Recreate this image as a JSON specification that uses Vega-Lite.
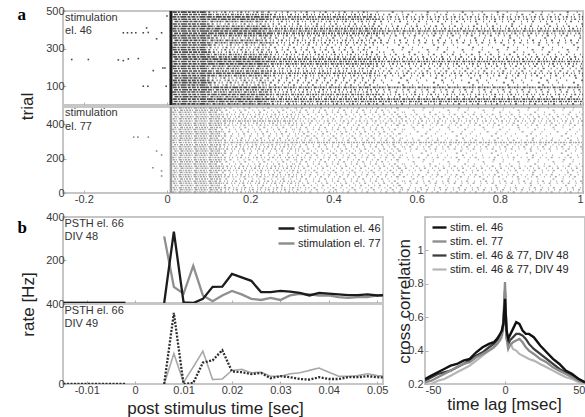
{
"$schema": "https://vega.github.io/schema/vega-lite/v6.json",
"background": "white",
"padding": {"left": 16, "top": 4, "right": 0, "bottom": 0},
"config": {
 "view": {"stroke": "#c6c6c6", "strokeWidth": 2},
 "axis": {"domain": false, "grid": false, "tickSize": -3, "tickColor": "#b0b0b0", "tickWidth": 1, "labelFont": "Liberation Sans", "labelFontSize": 11, "labelColor": "#3a3a3a", "titleFont": "Liberation Sans", "titleFontSize": 17, "titleFontWeight": "normal", "titleColor": "#222"},
 "axisX": {"labelPadding": 3},
 "axisY": {"labelPadding": 2},
 "legend": {"labelFont": "Liberation Sans", "labelFontSize": 11, "labelColor": "#222", "symbolType": "stroke", "padding": 0}
},
"datasets": {
 "ras": [
{"p":"A","r":6,"a":0.013,"b":0.095,"d":5},{"p":"A","r":6,"a":0.095,"b":0.245,"d":4},{"p":"A","r":6,"a":0.245,"b":0.505,"d":3},{"p":"A","r":6,"a":0.505,"b":1,"d":2},
{"p":"A","r":19,"a":0.016,"b":0.105,"d":5},{"p":"A","r":19,"a":0.105,"b":0.235,"d":5},{"p":"A","r":19,"a":0.235,"b":0.495,"d":4},{"p":"A","r":19,"a":0.495,"b":1,"d":4},
{"p":"A","r":31,"a":0.014,"b":0.1,"d":5},{"p":"A","r":31,"a":0.1,"b":0.255,"d":5},{"p":"A","r":31,"a":0.255,"b":0.515,"d":4},{"p":"A","r":31,"a":0.515,"b":1,"d":4},
{"p":"A","r":44,"a":0.018,"b":0.09,"d":5},{"p":"A","r":44,"a":0.09,"b":0.228,"d":4},{"p":"A","r":44,"a":0.228,"b":0.5,"d":3},{"p":"A","r":44,"a":0.5,"b":1,"d":2},
{"p":"A","r":56,"a":0.015,"b":0.11,"d":5},{"p":"A","r":56,"a":0.11,"b":0.248,"d":5},{"p":"A","r":56,"a":0.248,"b":0.51,"d":4},{"p":"A","r":56,"a":0.51,"b":1,"d":3},
{"p":"A","r":69,"a":0.013,"b":0.098,"d":5},{"p":"A","r":69,"a":0.098,"b":0.24,"d":4},{"p":"A","r":69,"a":0.24,"b":0.49,"d":3},{"p":"A","r":69,"a":0.49,"b":1,"d":2},
{"p":"A","r":81,"a":0.017,"b":0.103,"d":5},{"p":"A","r":81,"a":0.103,"b":0.25,"d":4},{"p":"A","r":81,"a":0.25,"b":0.52,"d":3},{"p":"A","r":81,"a":0.52,"b":1,"d":2},
{"p":"A","r":94,"a":0.014,"b":0.092,"d":5},{"p":"A","r":94,"a":0.092,"b":0.23,"d":5},{"p":"A","r":94,"a":0.23,"b":0.48,"d":4},{"p":"A","r":94,"a":0.48,"b":1,"d":4},
{"p":"A","r":106,"a":0.013,"b":0.095,"d":5},{"p":"A","r":106,"a":0.095,"b":0.245,"d":3},{"p":"A","r":106,"a":0.245,"b":0.505,"d":2},{"p":"A","r":106,"a":0.505,"b":1,"d":1},
{"p":"A","r":119,"a":0.016,"b":0.105,"d":5},{"p":"A","r":119,"a":0.105,"b":0.235,"d":3},{"p":"A","r":119,"a":0.235,"b":0.495,"d":2},{"p":"A","r":119,"a":0.495,"b":1,"d":1},
{"p":"A","r":131,"a":0.014,"b":0.1,"d":5},{"p":"A","r":131,"a":0.1,"b":0.255,"d":3},{"p":"A","r":131,"a":0.255,"b":0.515,"d":2},{"p":"A","r":131,"a":0.515,"b":1,"d":1},
{"p":"A","r":144,"a":0.018,"b":0.09,"d":5},{"p":"A","r":144,"a":0.09,"b":0.228,"d":3},{"p":"A","r":144,"a":0.228,"b":0.5,"d":2},{"p":"A","r":144,"a":0.5,"b":1,"d":1},
{"p":"A","r":156,"a":0.015,"b":0.11,"d":5},{"p":"A","r":156,"a":0.11,"b":0.248,"d":4},{"p":"A","r":156,"a":0.248,"b":0.51,"d":3},{"p":"A","r":156,"a":0.51,"b":1,"d":2},
{"p":"A","r":169,"a":0.013,"b":0.098,"d":5},{"p":"A","r":169,"a":0.098,"b":0.24,"d":5},{"p":"A","r":169,"a":0.24,"b":0.49,"d":4},{"p":"A","r":169,"a":0.49,"b":1,"d":3},
{"p":"A","r":181,"a":0.017,"b":0.103,"d":5},{"p":"A","r":181,"a":0.103,"b":0.25,"d":4},{"p":"A","r":181,"a":0.25,"b":0.52,"d":3},{"p":"A","r":181,"a":0.52,"b":1,"d":2},
{"p":"A","r":194,"a":0.014,"b":0.092,"d":5},{"p":"A","r":194,"a":0.092,"b":0.23,"d":4},{"p":"A","r":194,"a":0.23,"b":0.48,"d":3},{"p":"A","r":194,"a":0.48,"b":1,"d":2},
{"p":"A","r":206,"a":0.013,"b":0.095,"d":5},{"p":"A","r":206,"a":0.095,"b":0.245,"d":4},{"p":"A","r":206,"a":0.245,"b":0.505,"d":3},{"p":"A","r":206,"a":0.505,"b":1,"d":2},
{"p":"A","r":219,"a":0.016,"b":0.105,"d":5},{"p":"A","r":219,"a":0.105,"b":0.235,"d":5},{"p":"A","r":219,"a":0.235,"b":0.495,"d":4},{"p":"A","r":219,"a":0.495,"b":1,"d":3},
{"p":"A","r":231,"a":0.014,"b":0.1,"d":5},{"p":"A","r":231,"a":0.1,"b":0.255,"d":5},{"p":"A","r":231,"a":0.255,"b":0.515,"d":4},{"p":"A","r":231,"a":0.515,"b":1,"d":4},
{"p":"A","r":244,"a":0.018,"b":0.09,"d":5},{"p":"A","r":244,"a":0.09,"b":0.228,"d":5},{"p":"A","r":244,"a":0.228,"b":0.5,"d":4},{"p":"A","r":244,"a":0.5,"b":1,"d":3},
{"p":"A","r":256,"a":0.015,"b":0.11,"d":5},{"p":"A","r":256,"a":0.11,"b":0.248,"d":4},{"p":"A","r":256,"a":0.248,"b":0.51,"d":3},{"p":"A","r":256,"a":0.51,"b":1,"d":2},
{"p":"A","r":269,"a":0.013,"b":0.098,"d":5},{"p":"A","r":269,"a":0.098,"b":0.24,"d":4},{"p":"A","r":269,"a":0.24,"b":0.49,"d":3},{"p":"A","r":269,"a":0.49,"b":1,"d":2},
{"p":"A","r":281,"a":0.017,"b":0.103,"d":5},{"p":"A","r":281,"a":0.103,"b":0.25,"d":3},{"p":"A","r":281,"a":0.25,"b":0.52,"d":2},{"p":"A","r":281,"a":0.52,"b":1,"d":1},
{"p":"A","r":294,"a":0.014,"b":0.092,"d":5},{"p":"A","r":294,"a":0.092,"b":0.23,"d":3},{"p":"A","r":294,"a":0.23,"b":0.48,"d":2},{"p":"A","r":294,"a":0.48,"b":1,"d":1},
{"p":"A","r":306,"a":0.013,"b":0.095,"d":5},{"p":"A","r":306,"a":0.095,"b":0.245,"d":3},{"p":"A","r":306,"a":0.245,"b":0.505,"d":2},{"p":"A","r":306,"a":0.505,"b":1,"d":1},
{"p":"A","r":319,"a":0.016,"b":0.105,"d":5},{"p":"A","r":319,"a":0.105,"b":0.235,"d":3},{"p":"A","r":319,"a":0.235,"b":0.495,"d":2},{"p":"A","r":319,"a":0.495,"b":1,"d":1},
{"p":"A","r":331,"a":0.014,"b":0.1,"d":5},{"p":"A","r":331,"a":0.1,"b":0.255,"d":4},{"p":"A","r":331,"a":0.255,"b":0.515,"d":3},{"p":"A","r":331,"a":0.515,"b":1,"d":2},
{"p":"A","r":344,"a":0.018,"b":0.09,"d":5},{"p":"A","r":344,"a":0.09,"b":0.228,"d":4},{"p":"A","r":344,"a":0.228,"b":0.5,"d":3},{"p":"A","r":344,"a":0.5,"b":1,"d":2},
{"p":"A","r":356,"a":0.015,"b":0.11,"d":5},{"p":"A","r":356,"a":0.11,"b":0.248,"d":3},{"p":"A","r":356,"a":0.248,"b":0.51,"d":2},{"p":"A","r":356,"a":0.51,"b":1,"d":1},
{"p":"A","r":369,"a":0.013,"b":0.098,"d":5},{"p":"A","r":369,"a":0.098,"b":0.24,"d":4},{"p":"A","r":369,"a":0.24,"b":0.49,"d":3},{"p":"A","r":369,"a":0.49,"b":1,"d":2},
{"p":"A","r":381,"a":0.017,"b":0.103,"d":5},{"p":"A","r":381,"a":0.103,"b":0.25,"d":5},{"p":"A","r":381,"a":0.25,"b":0.52,"d":4},{"p":"A","r":381,"a":0.52,"b":1,"d":3},
{"p":"A","r":394,"a":0.014,"b":0.092,"d":5},{"p":"A","r":394,"a":0.092,"b":0.23,"d":5},{"p":"A","r":394,"a":0.23,"b":0.48,"d":4},{"p":"A","r":394,"a":0.48,"b":1,"d":4},
{"p":"A","r":406,"a":0.013,"b":0.095,"d":5},{"p":"A","r":406,"a":0.095,"b":0.245,"d":5},{"p":"A","r":406,"a":0.245,"b":0.505,"d":4},{"p":"A","r":406,"a":0.505,"b":1,"d":3},
{"p":"A","r":419,"a":0.016,"b":0.105,"d":5},{"p":"A","r":419,"a":0.105,"b":0.235,"d":4},{"p":"A","r":419,"a":0.235,"b":0.495,"d":3},{"p":"A","r":419,"a":0.495,"b":1,"d":2},
{"p":"A","r":431,"a":0.014,"b":0.1,"d":5},{"p":"A","r":431,"a":0.1,"b":0.255,"d":3},{"p":"A","r":431,"a":0.255,"b":0.515,"d":2},{"p":"A","r":431,"a":0.515,"b":1,"d":1},
{"p":"A","r":444,"a":0.018,"b":0.09,"d":5},{"p":"A","r":444,"a":0.09,"b":0.228,"d":4},{"p":"A","r":444,"a":0.228,"b":0.5,"d":3},{"p":"A","r":444,"a":0.5,"b":1,"d":2},
{"p":"A","r":456,"a":0.015,"b":0.11,"d":5},{"p":"A","r":456,"a":0.11,"b":0.248,"d":5},{"p":"A","r":456,"a":0.248,"b":0.51,"d":4},{"p":"A","r":456,"a":0.51,"b":1,"d":3},
{"p":"A","r":469,"a":0.013,"b":0.098,"d":5},{"p":"A","r":469,"a":0.098,"b":0.24,"d":5},{"p":"A","r":469,"a":0.24,"b":0.49,"d":4},{"p":"A","r":469,"a":0.49,"b":1,"d":3},
{"p":"A","r":481,"a":0.017,"b":0.103,"d":5},{"p":"A","r":481,"a":0.103,"b":0.25,"d":4},{"p":"A","r":481,"a":0.25,"b":0.52,"d":3},{"p":"A","r":481,"a":0.52,"b":1,"d":2},
{"p":"A","r":494,"a":0.014,"b":0.092,"d":5},{"p":"A","r":494,"a":0.092,"b":0.23,"d":3},{"p":"A","r":494,"a":0.23,"b":0.48,"d":2},{"p":"A","r":494,"a":0.48,"b":1,"d":1},
{"p":"B","r":6,"a":0.013,"b":0.13,"d":4},{"p":"B","r":6,"a":0.13,"b":0.33,"d":3},{"p":"B","r":6,"a":0.33,"b":0.545,"d":2},{"p":"B","r":6,"a":0.545,"b":1,"d":2},
{"p":"B","r":19,"a":0.016,"b":0.12,"d":4},{"p":"B","r":19,"a":0.12,"b":0.3,"d":3},{"p":"B","r":19,"a":0.3,"b":0.565,"d":2},{"p":"B","r":19,"a":0.565,"b":1,"d":2},
{"p":"B","r":31,"a":0.014,"b":0.14,"d":4},{"p":"B","r":31,"a":0.14,"b":0.34,"d":3},{"p":"B","r":31,"a":0.34,"b":0.55,"d":2},{"p":"B","r":31,"a":0.55,"b":1,"d":2},
{"p":"B","r":44,"a":0.018,"b":0.125,"d":4},{"p":"B","r":44,"a":0.125,"b":0.315,"d":2},{"p":"B","r":44,"a":0.315,"b":0.56,"d":2},{"p":"B","r":44,"a":0.56,"b":1,"d":1},
{"p":"B","r":56,"a":0.015,"b":0.135,"d":4},{"p":"B","r":56,"a":0.135,"b":0.325,"d":3},{"p":"B","r":56,"a":0.325,"b":0.54,"d":2},{"p":"B","r":56,"a":0.54,"b":1,"d":2},
{"p":"B","r":69,"a":0.013,"b":0.118,"d":4},{"p":"B","r":69,"a":0.118,"b":0.305,"d":3},{"p":"B","r":69,"a":0.305,"b":0.57,"d":2},{"p":"B","r":69,"a":0.57,"b":1,"d":2},
{"p":"B","r":81,"a":0.017,"b":0.128,"d":4},{"p":"B","r":81,"a":0.128,"b":0.32,"d":2},{"p":"B","r":81,"a":0.32,"b":0.53,"d":2},{"p":"B","r":81,"a":0.53,"b":1,"d":1},
{"p":"B","r":94,"a":0.014,"b":0.138,"d":4},{"p":"B","r":94,"a":0.138,"b":0.31,"d":3},{"p":"B","r":94,"a":0.31,"b":0.555,"d":2},{"p":"B","r":94,"a":0.555,"b":1,"d":2},
{"p":"B","r":106,"a":0.013,"b":0.13,"d":4},{"p":"B","r":106,"a":0.13,"b":0.33,"d":3},{"p":"B","r":106,"a":0.33,"b":0.545,"d":2},{"p":"B","r":106,"a":0.545,"b":1,"d":2},
{"p":"B","r":119,"a":0.016,"b":0.12,"d":4},{"p":"B","r":119,"a":0.12,"b":0.3,"d":2},{"p":"B","r":119,"a":0.3,"b":0.565,"d":2},{"p":"B","r":119,"a":0.565,"b":1,"d":1},
{"p":"B","r":131,"a":0.014,"b":0.14,"d":4},{"p":"B","r":131,"a":0.14,"b":0.34,"d":3},{"p":"B","r":131,"a":0.34,"b":0.55,"d":2},{"p":"B","r":131,"a":0.55,"b":1,"d":2},
{"p":"B","r":144,"a":0.018,"b":0.125,"d":4},{"p":"B","r":144,"a":0.125,"b":0.315,"d":3},{"p":"B","r":144,"a":0.315,"b":0.56,"d":2},{"p":"B","r":144,"a":0.56,"b":1,"d":2},
{"p":"B","r":156,"a":0.015,"b":0.135,"d":4},{"p":"B","r":156,"a":0.135,"b":0.325,"d":3},{"p":"B","r":156,"a":0.325,"b":0.54,"d":2},{"p":"B","r":156,"a":0.54,"b":1,"d":2},
{"p":"B","r":169,"a":0.013,"b":0.118,"d":4},{"p":"B","r":169,"a":0.118,"b":0.305,"d":2},{"p":"B","r":169,"a":0.305,"b":0.57,"d":2},{"p":"B","r":169,"a":0.57,"b":1,"d":1},
{"p":"B","r":181,"a":0.017,"b":0.128,"d":4},{"p":"B","r":181,"a":0.128,"b":0.32,"d":2},{"p":"B","r":181,"a":0.32,"b":0.53,"d":2},{"p":"B","r":181,"a":0.53,"b":1,"d":1},
{"p":"B","r":194,"a":0.014,"b":0.138,"d":4},{"p":"B","r":194,"a":0.138,"b":0.31,"d":2},{"p":"B","r":194,"a":0.31,"b":0.555,"d":2},{"p":"B","r":194,"a":0.555,"b":1,"d":1},
{"p":"B","r":206,"a":0.013,"b":0.13,"d":4},{"p":"B","r":206,"a":0.13,"b":0.33,"d":3},{"p":"B","r":206,"a":0.33,"b":0.545,"d":2},{"p":"B","r":206,"a":0.545,"b":1,"d":2},
{"p":"B","r":219,"a":0.016,"b":0.12,"d":4},{"p":"B","r":219,"a":0.12,"b":0.3,"d":2},{"p":"B","r":219,"a":0.3,"b":0.565,"d":2},{"p":"B","r":219,"a":0.565,"b":1,"d":1},
{"p":"B","r":231,"a":0.014,"b":0.14,"d":4},{"p":"B","r":231,"a":0.14,"b":0.34,"d":2},{"p":"B","r":231,"a":0.34,"b":0.55,"d":2},{"p":"B","r":231,"a":0.55,"b":1,"d":1},
{"p":"B","r":244,"a":0.018,"b":0.125,"d":4},{"p":"B","r":244,"a":0.125,"b":0.315,"d":2},{"p":"B","r":244,"a":0.315,"b":0.56,"d":2},{"p":"B","r":244,"a":0.56,"b":1,"d":1},
{"p":"B","r":256,"a":0.015,"b":0.135,"d":4},{"p":"B","r":256,"a":0.135,"b":0.325,"d":3},{"p":"B","r":256,"a":0.325,"b":0.54,"d":2},{"p":"B","r":256,"a":0.54,"b":1,"d":2},
{"p":"B","r":269,"a":0.013,"b":0.118,"d":4},{"p":"B","r":269,"a":0.118,"b":0.305,"d":3},{"p":"B","r":269,"a":0.305,"b":0.57,"d":2},{"p":"B","r":269,"a":0.57,"b":1,"d":2},
{"p":"B","r":281,"a":0.017,"b":0.128,"d":4},{"p":"B","r":281,"a":0.128,"b":0.32,"d":3},{"p":"B","r":281,"a":0.32,"b":0.53,"d":2},{"p":"B","r":281,"a":0.53,"b":1,"d":2},
{"p":"B","r":294,"a":0.014,"b":0.138,"d":4},{"p":"B","r":294,"a":0.138,"b":0.31,"d":4},{"p":"B","r":294,"a":0.31,"b":0.555,"d":4},{"p":"B","r":294,"a":0.555,"b":1,"d":4},
{"p":"B","r":306,"a":0.013,"b":0.13,"d":4},{"p":"B","r":306,"a":0.13,"b":0.33,"d":3},{"p":"B","r":306,"a":0.33,"b":0.545,"d":2},{"p":"B","r":306,"a":0.545,"b":1,"d":2},
{"p":"B","r":319,"a":0.016,"b":0.12,"d":4},{"p":"B","r":319,"a":0.12,"b":0.3,"d":2},{"p":"B","r":319,"a":0.3,"b":0.565,"d":2},{"p":"B","r":319,"a":0.565,"b":1,"d":1},
{"p":"B","r":331,"a":0.014,"b":0.14,"d":4},{"p":"B","r":331,"a":0.14,"b":0.34,"d":2},{"p":"B","r":331,"a":0.34,"b":0.55,"d":2},{"p":"B","r":331,"a":0.55,"b":1,"d":1},
{"p":"B","r":344,"a":0.018,"b":0.125,"d":4},{"p":"B","r":344,"a":0.125,"b":0.315,"d":2},{"p":"B","r":344,"a":0.315,"b":0.56,"d":2},{"p":"B","r":344,"a":0.56,"b":1,"d":1},
{"p":"B","r":356,"a":0.015,"b":0.135,"d":4},{"p":"B","r":356,"a":0.135,"b":0.325,"d":2},{"p":"B","r":356,"a":0.325,"b":0.54,"d":2},{"p":"B","r":356,"a":0.54,"b":1,"d":1},
{"p":"B","r":369,"a":0.013,"b":0.118,"d":4},{"p":"B","r":369,"a":0.118,"b":0.305,"d":2},{"p":"B","r":369,"a":0.305,"b":0.57,"d":2},{"p":"B","r":369,"a":0.57,"b":1,"d":1},
{"p":"B","r":381,"a":0.017,"b":0.128,"d":4},{"p":"B","r":381,"a":0.128,"b":0.32,"d":2},{"p":"B","r":381,"a":0.32,"b":0.53,"d":2},{"p":"B","r":381,"a":0.53,"b":1,"d":1},
{"p":"B","r":394,"a":0.014,"b":0.138,"d":4},{"p":"B","r":394,"a":0.138,"b":0.31,"d":3},{"p":"B","r":394,"a":0.31,"b":0.555,"d":2},{"p":"B","r":394,"a":0.555,"b":1,"d":2},
{"p":"B","r":406,"a":0.013,"b":0.13,"d":4},{"p":"B","r":406,"a":0.13,"b":0.33,"d":3},{"p":"B","r":406,"a":0.33,"b":0.545,"d":2},{"p":"B","r":406,"a":0.545,"b":1,"d":2},
{"p":"B","r":419,"a":0.016,"b":0.12,"d":4},{"p":"B","r":419,"a":0.12,"b":0.3,"d":4},{"p":"B","r":419,"a":0.3,"b":0.565,"d":3},{"p":"B","r":419,"a":0.565,"b":1,"d":3},
{"p":"B","r":431,"a":0.014,"b":0.14,"d":4},{"p":"B","r":431,"a":0.14,"b":0.34,"d":3},{"p":"B","r":431,"a":0.34,"b":0.55,"d":2},{"p":"B","r":431,"a":0.55,"b":1,"d":2},
{"p":"B","r":444,"a":0.018,"b":0.125,"d":4},{"p":"B","r":444,"a":0.125,"b":0.315,"d":3},{"p":"B","r":444,"a":0.315,"b":0.56,"d":2},{"p":"B","r":444,"a":0.56,"b":1,"d":2},
{"p":"B","r":456,"a":0.015,"b":0.135,"d":4},{"p":"B","r":456,"a":0.135,"b":0.325,"d":3},{"p":"B","r":456,"a":0.325,"b":0.54,"d":2},{"p":"B","r":456,"a":0.54,"b":1,"d":2},
{"p":"B","r":469,"a":0.013,"b":0.118,"d":4},{"p":"B","r":469,"a":0.118,"b":0.305,"d":2},{"p":"B","r":469,"a":0.305,"b":0.57,"d":2},{"p":"B","r":469,"a":0.57,"b":1,"d":1},
{"p":"B","r":481,"a":0.017,"b":0.128,"d":4},{"p":"B","r":481,"a":0.128,"b":0.32,"d":2},{"p":"B","r":481,"a":0.32,"b":0.53,"d":2},{"p":"B","r":481,"a":0.53,"b":1,"d":1},
{"p":"B","r":494,"a":0.014,"b":0.138,"d":4},{"p":"B","r":494,"a":0.138,"b":0.31,"d":2},{"p":"B","r":494,"a":0.31,"b":0.555,"d":2},{"p":"B","r":494,"a":0.555,"b":1,"d":1}
 ],
 "pre": [
{"p":"A","t":-0.229,"r":242},{"p":"A","t":-0.189,"r":242},{"p":"A","t":-0.117,"r":240},{"p":"A","t":-0.105,"r":236},{"p":"A","t":-0.093,"r":245},{"p":"A","t":-0.069,"r":247},
{"p":"A","t":-0.105,"r":384},{"p":"A","t":-0.095,"r":384},{"p":"A","t":-0.085,"r":384},{"p":"A","t":-0.075,"r":384},{"p":"A","t":-0.057,"r":384},{"p":"A","t":-0.045,"r":386},{"p":"A","t":-0.013,"r":384},
{"p":"A","t":-0.049,"r":410},{"p":"A","t":-0.025,"r":352},{"p":"A","t":-0.033,"r":183},{"p":"A","t":-0.01,"r":197},{"p":"A","t":-0.005,"r":197},
{"p":"A","t":-0.057,"r":100},{"p":"A","t":-0.046,"r":100},{"p":"A","t":-0.002,"r":100},{"p":"A","t":0.0,"r":473},
{"p":"B","t":-0.08,"r":325},{"p":"B","t":-0.07,"r":325},{"p":"B","t":-0.045,"r":325},{"p":"B","t":-0.025,"r":244},{"p":"B","t":-0.013,"r":221},{"p":"B","t":-0.034,"r":147},{"p":"B","t":-0.013,"r":128},{"p":"B","t":-0.013,"r":99}
 ],
 "art": [{"p":"A","t":0.0095},{"p":"B","t":0.0095}],
 "b1": [
{"s":"77","g":"pre","t":-0.0148,"v":0},{"s":"77","g":"pre","t":-0.002,"v":0},
{"s":"77","g":"post","t":0.006,"v":310},{"s":"77","g":"post","t":0.008,"v":75},{"s":"77","g":"post","t":0.010,"v":43},{"s":"77","g":"post","t":0.012,"v":173},{"s":"77","g":"post","t":0.014,"v":35},{"s":"77","g":"post","t":0.016,"v":8},{"s":"77","g":"post","t":0.018,"v":35},{"s":"77","g":"post","t":0.020,"v":56},{"s":"77","g":"post","t":0.022,"v":40},{"s":"77","g":"post","t":0.024,"v":19},{"s":"77","g":"post","t":0.026,"v":14},{"s":"77","g":"post","t":0.028,"v":24},{"s":"77","g":"post","t":0.030,"v":14},{"s":"77","g":"post","t":0.032,"v":35},{"s":"77","g":"post","t":0.034,"v":43},{"s":"77","g":"post","t":0.036,"v":40},{"s":"77","g":"post","t":0.038,"v":35},{"s":"77","g":"post","t":0.040,"v":35},{"s":"77","g":"post","t":0.042,"v":27},{"s":"77","g":"post","t":0.044,"v":24},{"s":"77","g":"post","t":0.046,"v":27},{"s":"77","g":"post","t":0.048,"v":27},{"s":"77","g":"post","t":0.050,"v":35},{"s":"77","g":"post","t":0.052,"v":33},
{"s":"46","g":"pre","t":-0.0148,"v":0},{"s":"46","g":"pre","t":-0.002,"v":0},
{"s":"46","g":"post","t":0.006,"v":0},{"s":"46","g":"post","t":0.008,"v":332},{"s":"46","g":"post","t":0.010,"v":3},{"s":"46","g":"post","t":0.012,"v":0},{"s":"46","g":"post","t":0.014,"v":19},{"s":"46","g":"post","t":0.016,"v":75},{"s":"46","g":"post","t":0.018,"v":76},{"s":"46","g":"post","t":0.020,"v":135},{"s":"46","g":"post","t":0.022,"v":119},{"s":"46","g":"post","t":0.024,"v":103},{"s":"46","g":"post","t":0.026,"v":51},{"s":"46","g":"post","t":0.028,"v":51},{"s":"46","g":"post","t":0.030,"v":56},{"s":"46","g":"post","t":0.032,"v":53},{"s":"46","g":"post","t":0.034,"v":47},{"s":"46","g":"post","t":0.036,"v":35},{"s":"46","g":"post","t":0.038,"v":47},{"s":"46","g":"post","t":0.040,"v":44},{"s":"46","g":"post","t":0.042,"v":40},{"s":"46","g":"post","t":0.044,"v":37},{"s":"46","g":"post","t":0.046,"v":37},{"s":"46","g":"post","t":0.048,"v":40},{"s":"46","g":"post","t":0.050,"v":35},{"s":"46","g":"post","t":0.052,"v":38}
 ],
 "b2": [
{"s":"77","g":"pre","t":-0.0148,"v":0},{"s":"77","g":"pre","t":-0.002,"v":0},
{"s":"77","g":"post","t":0.006,"v":0},{"s":"77","g":"post","t":0.008,"v":152},{"s":"77","g":"post","t":0.010,"v":8},{"s":"77","g":"post","t":0.012,"v":85},{"s":"77","g":"post","t":0.014,"v":164},{"s":"77","g":"post","t":0.016,"v":22},{"s":"77","g":"post","t":0.018,"v":25},{"s":"77","g":"post","t":0.020,"v":68},{"s":"77","g":"post","t":0.022,"v":73},{"s":"77","g":"post","t":0.024,"v":56},{"s":"77","g":"post","t":0.026,"v":59},{"s":"77","g":"post","t":0.028,"v":39},{"s":"77","g":"post","t":0.030,"v":39},{"s":"77","g":"post","t":0.032,"v":51},{"s":"77","g":"post","t":0.034,"v":56},{"s":"77","g":"post","t":0.036,"v":68},{"s":"77","g":"post","t":0.038,"v":80},{"s":"77","g":"post","t":0.040,"v":59},{"s":"77","g":"post","t":0.042,"v":39},{"s":"77","g":"post","t":0.044,"v":39},{"s":"77","g":"post","t":0.046,"v":42},{"s":"77","g":"post","t":0.048,"v":51},{"s":"77","g":"post","t":0.050,"v":42},{"s":"77","g":"post","t":0.052,"v":40},
{"s":"46","g":"pre","t":-0.0148,"v":0},{"s":"46","g":"pre","t":-0.002,"v":0},
{"s":"46","g":"post","t":0.006,"v":0},{"s":"46","g":"post","t":0.008,"v":355},{"s":"46","g":"post","t":0.010,"v":0},{"s":"46","g":"post","t":0.012,"v":5},{"s":"46","g":"post","t":0.014,"v":107},{"s":"46","g":"post","t":0.016,"v":118},{"s":"46","g":"post","t":0.018,"v":169},{"s":"46","g":"post","t":0.020,"v":63},{"s":"46","g":"post","t":0.022,"v":59},{"s":"46","g":"post","t":0.024,"v":50},{"s":"46","g":"post","t":0.026,"v":55},{"s":"46","g":"post","t":0.028,"v":29},{"s":"46","g":"post","t":0.030,"v":39},{"s":"46","g":"post","t":0.032,"v":34},{"s":"46","g":"post","t":0.034,"v":25},{"s":"46","g":"post","t":0.036,"v":22},{"s":"46","g":"post","t":0.038,"v":34},{"s":"46","g":"post","t":0.040,"v":25},{"s":"46","g":"post","t":0.042,"v":25},{"s":"46","g":"post","t":0.044,"v":34},{"s":"46","g":"post","t":0.046,"v":34},{"s":"46","g":"post","t":0.048,"v":39},{"s":"46","g":"post","t":0.050,"v":34},{"s":"46","g":"post","t":0.052,"v":32}
 ],
 "cc": [
{"s":"49","x":-50,"c":0.19},{"s":"49","x":-46,"c":0.2},{"s":"49","x":-42,"c":0.22},{"s":"49","x":-38,"c":0.23},{"s":"49","x":-34,"c":0.25},{"s":"49","x":-30,"c":0.27},{"s":"49","x":-26,"c":0.29},{"s":"49","x":-22,"c":0.31},{"s":"49","x":-18,"c":0.34},{"s":"49","x":-14,"c":0.37},{"s":"49","x":-10,"c":0.4},{"s":"49","x":-7,"c":0.42},{"s":"49","x":-5,"c":0.44},{"s":"49","x":-3,"c":0.46},{"s":"49","x":-2,"c":0.48},{"s":"49","x":-1,"c":0.53},{"s":"49","x":0,"c":0.66},{"s":"49","x":1,"c":0.5},{"s":"49","x":2,"c":0.49},{"s":"49","x":3,"c":0.45},{"s":"49","x":5,"c":0.41},{"s":"49","x":7,"c":0.4},{"s":"49","x":9,"c":0.38},{"s":"49","x":11,"c":0.37},{"s":"49","x":13,"c":0.36},{"s":"49","x":15,"c":0.35},{"s":"49","x":18,"c":0.34},{"s":"49","x":22,"c":0.32},{"s":"49","x":26,"c":0.3},{"s":"49","x":30,"c":0.28},{"s":"49","x":34,"c":0.26},{"s":"49","x":38,"c":0.24},{"s":"49","x":42,"c":0.23},{"s":"49","x":46,"c":0.21},{"s":"49","x":50,"c":0.2},
{"s":"48","x":-50,"c":0.22},{"s":"48","x":-46,"c":0.24},{"s":"48","x":-42,"c":0.26},{"s":"48","x":-38,"c":0.27},{"s":"48","x":-34,"c":0.28},{"s":"48","x":-30,"c":0.3},{"s":"48","x":-26,"c":0.32},{"s":"48","x":-22,"c":0.34},{"s":"48","x":-18,"c":0.37},{"s":"48","x":-14,"c":0.39},{"s":"48","x":-10,"c":0.42},{"s":"48","x":-7,"c":0.44},{"s":"48","x":-5,"c":0.46},{"s":"48","x":-3,"c":0.48},{"s":"48","x":-2,"c":0.5},{"s":"48","x":-1,"c":0.56},{"s":"48","x":0,"c":0.76},{"s":"48","x":1,"c":0.48},{"s":"48","x":2,"c":0.44},{"s":"48","x":3,"c":0.46},{"s":"48","x":5,"c":0.48},{"s":"48","x":7,"c":0.5},{"s":"48","x":9,"c":0.5},{"s":"48","x":11,"c":0.49},{"s":"48","x":13,"c":0.47},{"s":"48","x":15,"c":0.44},{"s":"48","x":18,"c":0.41},{"s":"48","x":22,"c":0.38},{"s":"48","x":26,"c":0.35},{"s":"48","x":30,"c":0.32},{"s":"48","x":34,"c":0.29},{"s":"48","x":38,"c":0.27},{"s":"48","x":42,"c":0.25},{"s":"48","x":46,"c":0.23},{"s":"48","x":50,"c":0.21},
{"s":"77","x":-50,"c":0.21},{"s":"77","x":-46,"c":0.22},{"s":"77","x":-42,"c":0.24},{"s":"77","x":-38,"c":0.26},{"s":"77","x":-34,"c":0.28},{"s":"77","x":-30,"c":0.3},{"s":"77","x":-26,"c":0.32},{"s":"77","x":-22,"c":0.33},{"s":"77","x":-18,"c":0.36},{"s":"77","x":-14,"c":0.38},{"s":"77","x":-10,"c":0.4},{"s":"77","x":-7,"c":0.42},{"s":"77","x":-5,"c":0.44},{"s":"77","x":-3,"c":0.47},{"s":"77","x":-2,"c":0.5},{"s":"77","x":-1,"c":0.58},{"s":"77","x":0,"c":0.81},{"s":"77","x":1,"c":0.47},{"s":"77","x":2,"c":0.41},{"s":"77","x":3,"c":0.43},{"s":"77","x":5,"c":0.45},{"s":"77","x":7,"c":0.46},{"s":"77","x":9,"c":0.47},{"s":"77","x":11,"c":0.45},{"s":"77","x":13,"c":0.42},{"s":"77","x":15,"c":0.4},{"s":"77","x":18,"c":0.38},{"s":"77","x":22,"c":0.35},{"s":"77","x":26,"c":0.33},{"s":"77","x":30,"c":0.3},{"s":"77","x":34,"c":0.28},{"s":"77","x":38,"c":0.26},{"s":"77","x":42,"c":0.24},{"s":"77","x":46,"c":0.22},{"s":"77","x":50,"c":0.21},
{"s":"46","x":-50,"c":0.23},{"s":"46","x":-46,"c":0.25},{"s":"46","x":-42,"c":0.27},{"s":"46","x":-38,"c":0.29},{"s":"46","x":-34,"c":0.31},{"s":"46","x":-30,"c":0.32},{"s":"46","x":-26,"c":0.34},{"s":"46","x":-22,"c":0.35},{"s":"46","x":-18,"c":0.39},{"s":"46","x":-14,"c":0.42},{"s":"46","x":-10,"c":0.44},{"s":"46","x":-7,"c":0.45},{"s":"46","x":-5,"c":0.47},{"s":"46","x":-3,"c":0.5},{"s":"46","x":-2,"c":0.52},{"s":"46","x":-1,"c":0.56},{"s":"46","x":0,"c":0.71},{"s":"46","x":1,"c":0.52},{"s":"46","x":2,"c":0.47},{"s":"46","x":3,"c":0.49},{"s":"46","x":5,"c":0.53},{"s":"46","x":7,"c":0.57},{"s":"46","x":9,"c":0.56},{"s":"46","x":11,"c":0.52},{"s":"46","x":13,"c":0.5},{"s":"46","x":15,"c":0.5},{"s":"46","x":18,"c":0.48},{"s":"46","x":22,"c":0.43},{"s":"46","x":26,"c":0.39},{"s":"46","x":30,"c":0.35},{"s":"46","x":34,"c":0.32},{"s":"46","x":38,"c":0.28},{"s":"46","x":42,"c":0.26},{"s":"46","x":46,"c":0.23},{"s":"46","x":50,"c":0.21}
 ]
},
"vconcat": [
 {
  "vconcat": [
   {
    "width": 520, "height": 94,
    "layer": [
     {"data": {"name": "ras"}, "transform": [{"filter": {"field": "p", "equal": "A"}}],
      "mark": {"type": "rule", "strokeWidth": 1.6, "color": "#111"},
      "encoding": {
       "x": {"field": "a", "type": "quantitative", "scale": {"domain": [-0.25, 1], "nice": false}, "axis": {"values": [-0.2, 0, 0.2, 0.4, 0.6, 0.8, 1], "labels": false, "title": "a", "titleX": -46, "titleY": -86, "titleAlign": "left", "titleBaseline": "alphabetic", "titleFont": "Liberation Serif", "titleFontSize": 17, "titleFontWeight": "bold", "titleColor": "#000"}},
       "x2": {"field": "b"},
       "y": {"field": "r", "type": "quantitative", "scale": {"domain": [0, 500], "nice": false}, "axis": {"values": [100, 200, 300, 400, 500], "title": "trial", "titleX": -31, "titleY": 95, "titleBaseline": "alphabetic"}},
       "opacity": {"field": "d", "type": "ordinal", "scale": {"domain": [1, 2, 3, 4, 5], "range": [0.6, 0.75, 0.85, 0.95, 1]}, "legend": null},
       "strokeDash": {"field": "d", "type": "ordinal", "scale": {"domain": [1, 2, 3, 4, 5], "range": [[1, 9, 1, 14, 2, 8], [1, 4, 2, 6, 1, 5], [1, 2, 2, 3, 1, 2, 1, 4], [2, 1, 1, 2, 3, 1, 1, 1, 2, 1], [4, 1, 2, 1, 6, 1, 3, 1]]}, "legend": null}
      }},
     {"data": {"name": "art"}, "transform": [{"filter": {"field": "p", "equal": "A"}}],
      "mark": {"type": "rule", "strokeWidth": 3, "color": "#1a1a1a"},
      "encoding": {"x": {"field": "t", "type": "quantitative"}}},
     {"data": {"name": "pre"}, "transform": [{"filter": {"field": "p", "equal": "A"}}],
      "mark": {"type": "square", "size": 2.5, "color": "#444", "opacity": 1},
      "encoding": {"x": {"field": "t", "type": "quantitative"}, "y": {"field": "r", "type": "quantitative"}}},
     {"data": {"values": [{"t": -0.245, "r": 449, "txt": "stimulation\nel. 46"}]},
      "mark": {"type": "text", "align": "left", "baseline": "alphabetic", "lineBreak": "\n", "lineHeight": 13.5, "fontSize": 11, "font": "Liberation Sans", "color": "#333"},
      "encoding": {"x": {"field": "t", "type": "quantitative"}, "y": {"field": "r", "type": "quantitative"}, "text": {"field": "txt"}}}
    ]
   },
   {
    "width": 520, "height": 86,
    "layer": [
     {"data": {"name": "ras"}, "transform": [{"filter": {"field": "p", "equal": "B"}}],
      "mark": {"type": "rule", "strokeWidth": 1.5, "color": "#7a7a7a"},
      "encoding": {
       "x": {"field": "a", "type": "quantitative", "scale": {"domain": [-0.25, 1], "nice": false}, "axis": {"values": [-0.2, 0, 0.2, 0.4, 0.6, 0.8, 1], "title": null, "labelFlush": true, "labelExpr": "datum.value + ''"}},
       "x2": {"field": "b"},
       "y": {"field": "r", "type": "quantitative", "scale": {"domain": [0, 500], "nice": false}, "axis": {"values": [0, 100, 200, 300, 400, 500], "title": null}},
       "opacity": {"field": "d", "type": "ordinal", "scale": {"domain": [1, 2, 3, 4, 5], "range": [0.6, 0.75, 0.85, 0.95, 1]}, "legend": null},
       "strokeDash": {"field": "d", "type": "ordinal", "scale": {"domain": [1, 2, 3, 4, 5], "range": [[1, 9, 1, 14, 2, 8], [1, 4, 2, 6, 1, 5], [1, 2, 2, 3, 1, 2, 1, 4], [2, 1, 1, 2, 3, 1, 1, 1, 2, 1], [4, 1, 2, 1, 6, 1, 3, 1]]}, "legend": null}
      }},
     {"data": {"name": "art"}, "transform": [{"filter": {"field": "p", "equal": "B"}}],
      "mark": {"type": "rule", "strokeWidth": 2.5, "color": "#9a9a9a"},
      "encoding": {"x": {"field": "t", "type": "quantitative"}}},
     {"data": {"name": "pre"}, "transform": [{"filter": {"field": "p", "equal": "B"}}],
      "mark": {"type": "square", "size": 2.5, "color": "#888", "opacity": 1},
      "encoding": {"x": {"field": "t", "type": "quantitative"}, "y": {"field": "r", "type": "quantitative"}}},
     {"data": {"values": [{"t": -0.245, "r": 445, "txt": "stimulation\nel. 77"}]},
      "mark": {"type": "text", "align": "left", "baseline": "alphabetic", "lineBreak": "\n", "lineHeight": 13.5, "fontSize": 11, "font": "Liberation Sans", "color": "#333"},
      "encoding": {"x": {"field": "t", "type": "quantitative"}, "y": {"field": "r", "type": "quantitative"}, "text": {"field": "txt"}}}
    ]
   }
  ],
  "spacing": 2, "bounds": "flush",
  "resolve": {"scale": {"opacity": "independent", "strokeDash": "independent", "color": "independent", "strokeWidth": "independent"}}
 },
 {
  "hconcat": [
   {
    "vconcat": [
     {
      "width": 320, "height": 86,
      "layer": [
       {"data": {"name": "b1"}, "mark": {"type": "line", "strokeWidth": 2.3, "clip": true},
        "encoding": {
         "x": {"field": "t", "type": "quantitative", "scale": {"domain": [-0.0149, 0.0512], "nice": false}, "axis": {"values": [-0.01, 0, 0.01, 0.02, 0.03, 0.04, 0.05], "labels": false, "title": "b", "titleX": -46, "titleY": -71, "titleAlign": "left", "titleBaseline": "alphabetic", "titleFont": "Liberation Serif", "titleFontSize": 17, "titleFontWeight": "bold", "titleColor": "#000"}},
         "y": {"field": "v", "type": "quantitative", "scale": {"domain": [0, 400], "nice": false}, "axis": {"values": [200, 400], "title": "rate [Hz]", "titleX": -30, "titleY": 87, "titleBaseline": "alphabetic"}},
         "color": {"field": "s", "type": "nominal", "scale": {"domain": ["46", "77"], "range": ["#1c1c1c", "#8f8f8f"]},
          "legend": {"orient": "none", "legendX": 214, "legendY": 2, "title": null, "symbolType": "stroke", "symbolSize": 256, "symbolStrokeWidth": 2.5, "labelOffset": 2, "rowPadding": -5, "labelExpr": "'stimulation el. ' + datum.label"}},
         "detail": {"field": "g"}
        }},
       {"data": {"values": [{"t": -0.0146, "v": 353, "txt": "PSTH el. 66\nDIV 48"}]},
        "mark": {"type": "text", "align": "left", "baseline": "alphabetic", "lineBreak": "\n", "lineHeight": 13, "fontSize": 11, "font": "Liberation Sans", "color": "#333"},
        "encoding": {"x": {"field": "t", "type": "quantitative"}, "y": {"field": "v", "type": "quantitative"}, "text": {"field": "txt"}}}
      ]
     },
     {
      "width": 320, "height": 80,
      "layer": [
       {"data": {"name": "b2"}, "mark": {"type": "line", "clip": true},
        "encoding": {
         "x": {"field": "t", "type": "quantitative", "scale": {"domain": [-0.0149, 0.0512], "nice": false}, "axis": {"values": [-0.01, 0, 0.01, 0.02, 0.03, 0.04, 0.05], "labelExpr": "datum.value + ''", "title": "post stimulus time [sec]", "titleX": 152, "titleY": 29, "titleBaseline": "alphabetic"}},
         "y": {"field": "v", "type": "quantitative", "scale": {"domain": [0, 400], "nice": false}, "axis": {"values": [0, 100, 200, 300, 400], "title": null}},
         "color": {"field": "s", "type": "nominal", "scale": {"domain": ["46", "77"], "range": ["#2e2e2e", "#a8a8a8"]}, "legend": null},
         "strokeDash": {"field": "s", "type": "nominal", "scale": {"domain": ["46", "77"], "range": [[2, 1.5], [10, 0]]}, "legend": null},
         "strokeWidth": {"field": "s", "type": "ordinal", "scale": {"domain": ["46", "77"], "range": [2.3, 1.6]}, "legend": null},
         "detail": {"field": "g"}
        }},
       {"data": {"values": [{"t": -0.0146, "v": 350, "txt": "PSTH el. 66\nDIV 49"}]},
        "mark": {"type": "text", "align": "left", "baseline": "alphabetic", "lineBreak": "\n", "lineHeight": 13, "fontSize": 11, "font": "Liberation Sans", "color": "#333"},
        "encoding": {"x": {"field": "t", "type": "quantitative"}, "y": {"field": "v", "type": "quantitative"}, "text": {"field": "txt"}}}
      ]
     }
    ],
    "spacing": 1, "bounds": "flush",
    "resolve": {"scale": {"opacity": "independent", "strokeDash": "independent", "color": "independent", "strokeWidth": "independent"}}
   },
   {
    "width": 160, "height": 167,
    "data": {"name": "cc"},
    "mark": {"type": "line", "clip": true},
    "encoding": {
     "x": {"field": "x", "type": "quantitative", "scale": {"domain": [-50, 50], "nice": false}, "axis": {"values": [-50, 0, 50], "labelFlush": true, "labelExpr": "datum.value + ''", "title": "time lag [msec]", "titleX": 79, "titleY": 25, "titleBaseline": "alphabetic"}},
     "y": {"field": "c", "type": "quantitative", "scale": {"domain": [0.2, 1.2], "nice": false, "zero": false}, "axis": {"values": [0.2, 0.4, 0.6, 0.8, 1, 1.2], "labelExpr": "datum.value == 1.2 ? ' ' : datum.value + ''", "labelPadding": 5, "title": "cross correlation", "titleX": -16, "titleY": 84, "titleBaseline": "alphabetic"}},
     "color": {"field": "s", "type": "nominal", "scale": {"domain": ["46", "77", "48", "49"], "range": ["#111111", "#8c8c8c", "#3c3c3c", "#b5b5b5"]},
      "legend": {"orient": "none", "legendX": 6, "legendY": 2, "title": null, "symbolType": "stroke", "symbolSize": 196, "labelOffset": 2, "rowPadding": -1.7, "labelExpr": "datum.label == '46' ? 'stim. el. 46' : datum.label == '77' ? 'stim. el. 77' : datum.label == '48' ? 'stim. el. 46 & 77, DIV 48' : 'stim. el. 46 & 77, DIV 49'"}},
     "strokeWidth": {"field": "s", "type": "ordinal", "scale": {"domain": ["46", "77", "48", "49"], "range": [2.4, 2.2, 1, 1.6]},
      "legend": {"orient": "none", "legendX": 6, "legendY": 2, "title": null, "symbolType": "stroke", "symbolSize": 196, "labelOffset": 2, "rowPadding": -1.7, "labelExpr": "datum.label == '46' ? 'stim. el. 46' : datum.label == '77' ? 'stim. el. 77' : datum.label == '48' ? 'stim. el. 46 & 77, DIV 48' : 'stim. el. 46 & 77, DIV 49'"}}
    }
   }
  ],
  "spacing": 5,
  "resolve": {"scale": {"opacity": "independent", "strokeDash": "independent", "color": "independent", "strokeWidth": "independent"}}
 }
],
"spacing": 5,
"resolve": {"scale": {"opacity": "independent", "strokeDash": "independent", "color": "independent", "strokeWidth": "independent"}}
}
